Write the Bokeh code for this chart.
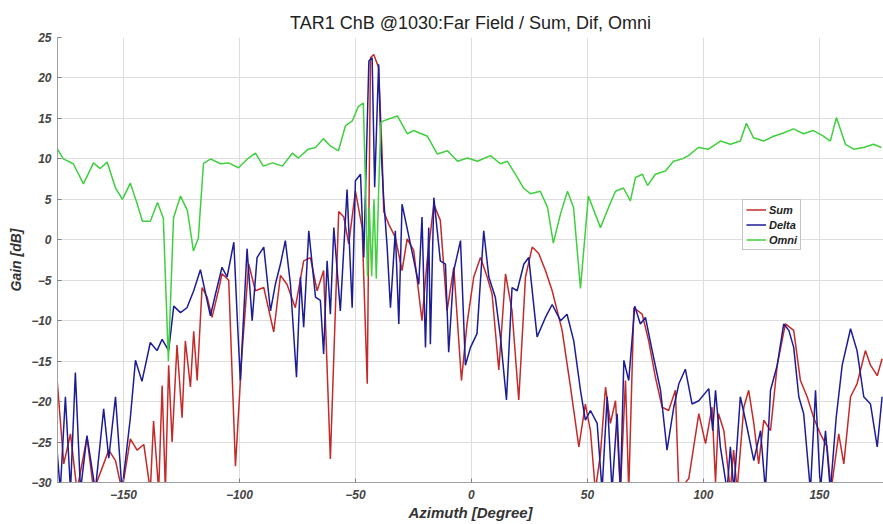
from bokeh.plotting import figure
from bokeh.models import Range1d, Legend, LegendItem, FixedTicker
from bokeh.embed import file_html
from bokeh.resources import INLINE

TITLE = "TAR1 ChB @1030:Far Field / Sum, Dif, Omni"
X_LABEL = "Azimuth [Degree]"
Y_LABEL = "Gain [dB]"
X_TICKS = [-150, -100, -50, 0, 50, 100, 150]
Y_TICKS = [-30, -25, -20, -15, -10, -5, 0, 5, 10, 15, 20, 25]

sum_az = [-178.6, -175.7, -172.8, -170.0, -165.7, -162.8, -156.3, -153.4, -150.6, -147.0,
          -144.1, -141.2, -138.4, -137.0, -134.8, -133.3, -131.9, -130.5, -129.0, -126.9,
          -124.7, -123.3, -121.1, -119.7, -118.2, -116.1, -113.9, -111.8, -108.9, -107.5,
          -104.6, -101.7, -98.9, -96.0, -93.1, -89.5, -85.2, -82.3, -79.5, -75.9,
          -72.3, -69.4, -66.5, -63.7, -60.8, -57.2, -55.0, -52.9, -50.0, -47.1,
          -44.9, -43.5, -42.1, -40.0, -38.5, -37.8, -35.6, -32.8, -29.9, -27.7,
          -24.9, -21.3, -19.1, -16.2, -13.4, -10.5, -7.6, -4.3, -1.9, 1.0,
          3.9, 6.8, 8.9, 11.8, 14.7, 17.5, 20.4, 23.3, 26.2, 29.0,
          31.9, 34.8, 39.1, 42.7, 46.3, 49.1, 51.3, 53.4, 55.6, 57.8,
          59.9, 62.1, 64.2, 66.4, 67.8, 70.0, 73.6, 76.4, 79.3, 82.2,
          85.0, 87.9, 89.4, 93.7, 98.0, 100.9, 103.7, 105.2, 106.5, 108.8,
          111.6, 113.0, 114.5, 117.4, 119.5, 121.7, 123.8, 126.0, 128.9, 131.8,
          135.3, 138.9, 141.8, 144.7, 147.5, 150.4, 153.3, 155.0, 158.3, 160.5,
          163.4, 166.2, 169.8, 172.0, 174.9, 177.0]
sum_db = [-17.2, -27.7, -24.0, -31.0, -24.4, -31.0, -26.0, -27.3, -31.0, -24.6,
          -26.0, -25.3, -31.0, -22.4, -31.0, -18.0, -31.0, -15.5, -25.0, -13.0,
          -22.0, -12.5, -18.2, -11.3, -17.4, -5.9, -7.1, -9.6, -6.1, -4.2,
          -5.0, -28.0, -14.1, -3.0, -6.3, -5.9, -11.4, -4.4, -5.5, -8.4,
          -2.6, -2.2, -6.3, -3.8, -27.1, 3.5, 2.8, -0.5, 6.0, 1.5,
          -17.8, 22.5, 22.9, 21.3, 10.6, 3.5, 1.9, 0.3, -3.8, 0.1,
          -1.3, -10.0, -2.6, 4.4, 2.4, -8.8, -3.4, -17.4, -10.4, -4.6,
          -2.2, -4.6, -6.7, -16.1, -4.2, -8.8, -19.8, -4.6, -0.9, -1.7,
          -3.8, -6.3, -11.2, -18.2, -25.6, -20.3, -23.6, -31.0, -26.5, -18.2,
          -22.7, -19.9, -31.0, -17.4, -31.0, -8.4, -9.2, -12.5, -17.0, -20.7,
          -21.1, -18.6, -31.0, -29.5, -21.5, -25.2, -20.7, -30.0, -21.5, -23.6,
          -31.0, -26.0, -31.0, -20.7, -18.6, -22.7, -27.7, -22.3, -23.6, -15.5,
          -10.4, -11.2, -17.4, -19.4, -22.0, -24.0, -25.6, -31.0, -24.0, -27.7,
          -19.4, -17.8, -13.7, -15.5, -16.8, -14.7]

delta_az = [-178.6, -177.2, -175.0, -172.8, -170.7, -168.5, -165.7, -162.1, -158.5, -156.3,
            -153.4, -150.6, -147.0, -144.8, -142.0, -138.4, -135.5, -133.3, -130.5, -128.3,
            -125.4, -122.6, -119.7, -116.8, -112.5, -110.3, -107.5, -105.3, -102.4, -101.0,
            -99.6, -96.7, -94.5, -92.4, -89.5, -86.6, -84.5, -82.3, -80.2, -78.0,
            -75.4, -73.7, -72.3, -70.1, -67.2, -65.1, -63.7, -62.2, -60.8, -59.3,
            -56.5, -53.6, -51.4, -50.0, -47.8, -46.4, -44.2, -42.8, -41.7, -40.0,
            -39.0, -37.8, -36.3, -34.9, -32.8, -31.3, -29.9, -26.3, -22.7, -21.3,
            -19.8, -18.4, -17.7, -16.2, -13.4, -11.2, -9.8, -7.6, -4.7, -2.6,
            -0.4, 2.4, 5.3, 7.5, 10.3, 12.5, 15.1, 17.5, 19.7, 22.6,
            24.7, 28.3, 31.9, 34.8, 38.4, 41.2, 44.1, 47.0, 49.1, 51.3,
            54.2, 56.3, 58.5, 60.6, 62.8, 64.2, 65.7, 67.8, 70.4, 72.8,
            75.0, 77.9, 81.5, 84.3, 87.2, 89.4, 92.2, 95.1, 98.0, 102.3,
            104.0, 105.2, 107.3, 110.2, 111.6, 113.1, 115.9, 118.8, 121.7, 124.6,
            126.7, 128.9, 131.8, 134.6, 136.8, 138.9, 141.1, 143.2, 146.1, 148.3,
            150.4, 152.6, 154.7, 157.2, 159.8, 163.4, 166.2, 169.1, 172.0, 174.9,
            177.0]
delta_db = [-26.0, -31.0, -19.4, -31.0, -16.4, -31.0, -24.2, -31.0, -20.9, -27.0,
            -19.4, -31.0, -22.0, -14.9, -17.5, -12.7, -13.7, -12.3, -13.7, -8.2,
            -9.0, -8.4, -6.3, -3.7, -9.4, -6.7, -3.4, -4.6, -0.3, -9.2,
            -17.4, -1.1, -10.0, -2.2, -0.9, -8.8, -5.5, -3.0, -0.1, -5.5,
            -17.0, -4.6, -10.8, 1.1, -7.1, -7.5, -14.1, -2.6, -9.2, 1.5,
            -8.8, 6.2, -8.4, 7.3, 8.1, -2.2, 22.1, 22.5, 6.5, 21.7,
            11.4, 5.0, -1.0, -8.4, 1.1, -10.4, 4.4, -0.5, -5.5, 2.8,
            -13.3, 1.5, -12.9, 5.2, -2.6, -3.0, -13.9, -3.8, -0.1, -15.5,
            -13.3, -11.6, 1.1, -4.6, -7.1, -12.0, -19.8, -5.9, -6.3, -3.0,
            -2.2, -12.0, -9.6, -8.0, -10.0, -9.2, -12.5, -18.6, -22.3, -21.1,
            -22.7, -31.0, -19.4, -31.0, -21.5, -31.0, -14.9, -17.4, -8.2, -10.4,
            -9.6, -13.7, -18.6, -26.0, -20.7, -17.8, -16.0, -20.3, -19.9, -18.4,
            -23.6, -18.6, -25.6, -31.0, -25.6, -31.0, -19.4, -23.2, -27.3, -23.6,
            -31.0, -18.6, -15.5, -10.4, -11.2, -13.3, -19.4, -21.5, -31.0, -18.6,
            -31.0, -23.6, -31.0, -22.0, -15.5, -11.0, -13.7, -19.4, -20.3, -25.6,
            -19.4]

omni_az = [-178.4, -175.9, -171.6, -167.2, -162.9, -160.0, -157.0, -153.4, -150.4, -147.0,
           -144.0, -141.8, -138.4, -135.3, -132.8, -130.6, -128.4, -125.4, -122.4, -119.8,
           -117.7, -115.5, -112.4, -108.2, -104.7, -100.4, -96.1, -93.1, -89.7, -85.8,
           -81.5, -77.2, -74.6, -70.3, -67.2, -63.8, -60.8, -57.3, -54.3, -51.3,
           -48.7, -46.6, -45.5, -44.8, -44.0, -43.0, -42.0, -41.0, -40.0, -39.0,
           -37.9, -31.9, -27.6, -25.0, -19.0, -14.7, -10.3, -6.0, -1.7, 2.6,
           8.2, 12.5, 15.5, 19.8, 22.4, 25.4, 29.7, 32.8, 35.3, 38.4,
           41.4, 44.0, 47.0, 50.4, 55.6, 59.1, 62.1, 65.5, 68.5, 70.7,
           73.7, 75.9, 79.3, 83.6, 87.1, 90.9, 93.5, 97.8, 102.2, 107.3,
           111.6, 115.9, 118.5, 121.6, 125.9, 130.2, 134.5, 138.8, 143.1, 147.4,
           151.7, 154.7, 157.3, 161.2, 164.7, 169.0, 173.3, 176.7]
omni_db = [11.2, 10.0, 9.4, 6.9, 9.5, 8.8, 9.6, 6.4, 5.0, 7.0,
           4.4, 2.3, 2.3, 4.6, 2.7, -15.0, 2.7, 5.4, 3.6, -1.4,
           0.2, 9.4, 10.0, 9.4, 9.5, 8.9, 10.1, 10.7, 9.1, 9.5,
           9.1, 10.7, 10.1, 11.2, 11.4, 12.5, 11.6, 11.0, 14.1, 14.7,
           16.5, 16.9, 5.0, -4.5, 4.0, -4.5, 5.0, -4.8, 6.0, 14.5,
           14.7, 15.3, 13.1, 13.5, 12.8, 10.6, 11.0, 9.7, 10.1, 9.7,
           10.4, 9.4, 9.7, 7.7, 6.4, 5.7, 6.0, 4.0, -0.4, 3.2,
           6.0, 4.0, -6.0, 5.4, 1.5, 4.0, 6.0, 6.4, 4.8, 7.7,
           8.1, 6.7, 8.1, 8.5, 9.7, 10.0, 10.4, 11.4, 11.2, 12.2,
           11.8, 12.2, 14.4, 12.6, 12.2, 12.8, 13.2, 13.7, 13.1, 13.5,
           12.8, 12.2, 15.1, 11.8, 11.2, 11.4, 11.8, 11.4]

SERIES_NAMES = ["Sum", "Delta", "Omni"]
SERIES_COLORS = ["#c42a2a", "#1c1c96", "#3fcf3f"]

p = figure(width=883, height=524, output_backend="svg", toolbar_location=None,
           x_range=Range1d(-178.4, 177.6), y_range=Range1d(-30, 25),
           min_border_left=57, min_border_right=0, min_border_top=37, min_border_bottom=42,
           title=TITLE)

p.title.align = "center"
p.title.text_font = "Liberation Sans"
p.title.text_font_size = "18px"
p.title.text_font_style = "normal"
p.title.text_color = "#222222"

p.outline_line_color = None
p.background_fill_color = "white"
p.border_fill_color = "white"

for ax in (p.xaxis[0], p.yaxis[0]):
    ax.axis_line_color = "#a0a0a0"
    ax.major_tick_line_color = "#808080"
    ax.major_tick_in = 4
    ax.major_tick_out = 0
    ax.minor_tick_line_color = None
    ax.major_label_text_font = "Liberation Sans"
    ax.major_label_text_font_style = "bold italic"
    ax.major_label_text_font_size = "12px"
    ax.major_label_text_color = "#444444"
    ax.axis_label_text_font = "Liberation Sans"
    ax.axis_label_text_font_style = "bold italic"
    ax.axis_label_text_font_size = "14px"
    ax.axis_label_text_color = "#333333"

p.xaxis.ticker = FixedTicker(ticks=X_TICKS)
p.yaxis.ticker = FixedTicker(ticks=Y_TICKS)
p.xaxis.axis_label = X_LABEL
p.yaxis.axis_label = Y_LABEL
p.xaxis.axis_label_text_font_size = "15px"
p.xaxis.major_label_standoff = 7
p.yaxis.major_label_standoff = 6
p.xaxis.axis_label_standoff = 2
p.yaxis.axis_label_standoff = 4

p.xgrid.ticker = FixedTicker(ticks=X_TICKS)
p.ygrid.ticker = FixedTicker(ticks=Y_TICKS)
p.xgrid.grid_line_color = "#dedede"
p.ygrid.grid_line_color = "#dedede"

r_sum = p.line(sum_az, sum_db, line_color=SERIES_COLORS[0], line_width=1.5)
r_delta = p.line(delta_az, delta_db, line_color=SERIES_COLORS[1], line_width=1.5)
r_omni = p.line(omni_az, omni_db, line_color=SERIES_COLORS[2], line_width=1.5)

legend = Legend(items=[LegendItem(label=SERIES_NAMES[0], renderers=[r_sum]),
                       LegendItem(label=SERIES_NAMES[1], renderers=[r_delta]),
                       LegendItem(label=SERIES_NAMES[2], renderers=[r_omni])],
                location=(685, 232))
legend.label_text_font = "Liberation Sans"
legend.label_text_font_style = "bold italic"
legend.label_text_font_size = "11px"
legend.label_text_color = "#222222"
legend.label_height = 13
legend.glyph_height = 13
legend.glyph_width = 20
legend.label_standoff = 3
legend.spacing = 2
legend.padding = 3
legend.margin = 0
legend.border_line_color = "#888888"
legend.background_fill_alpha = 1.0
p.add_layout(legend)

open("out.html", "w").write(file_html(p, INLINE))
